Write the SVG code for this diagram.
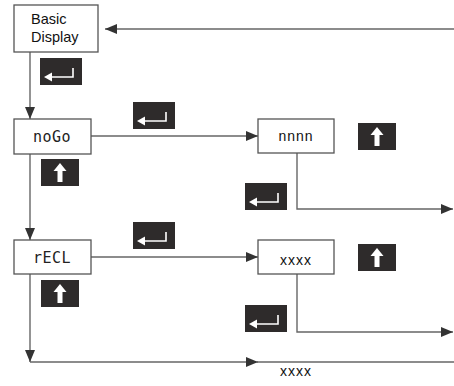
<svg xmlns="http://www.w3.org/2000/svg" xmlns:xlink="http://www.w3.org/1999/xlink" width="454" height="386" viewBox="0 0 454 386">
<style>
.box{fill:#fff;stroke:#555;stroke-width:1.3}
.ln{fill:none;stroke:#666;stroke-width:1.4}
.t{font-family:"Liberation Sans",Arial,sans-serif;font-size:14.5px;fill:#111}
.v{font-family:"Liberation Sans",Arial,sans-serif;font-size:14px;fill:#111;text-anchor:middle;letter-spacing:1px}
.seg{font-family:"DejaVu Sans Mono","Liberation Mono",monospace;font-size:15px;fill:#222;text-anchor:middle;letter-spacing:0.5px}
.ic{fill:#2e2b2b}
</style>
<defs>
<marker id="ah" markerUnits="userSpaceOnUse" markerWidth="12" markerHeight="10" viewBox="0 0 12 10" refX="12" refY="5" orient="auto">
<path d="M0,0 L12,5 L0,10 Z" fill="#333"/>
</marker>
<g id="enter">
<rect class="ic" width="42" height="27"/>
<path d="M33,10 V19 H11" fill="none" stroke="#fff" stroke-width="1.6"/>
<path d="M4,19 L12,14.5 L12,23.5 Z" fill="#fff"/>
</g>
<g id="up">
<rect class="ic" width="38" height="27"/>
<path d="M19,4 L25.5,12 L21.5,12 L21.5,23 L16.5,23 L16.5,12 L12.5,12 Z" fill="#fff"/>
</g>
</defs>
<g id="connectors">
<line class="ln" x1="454" y1="29" x2="105" y2="29" marker-end="url(#ah)"/>
<line class="ln" x1="30" y1="52" x2="30" y2="119" marker-end="url(#ah)"/>
<line class="ln" x1="91" y1="136" x2="258" y2="136" marker-end="url(#ah)"/>
<polyline class="ln" points="297,153 297,209 453,209" marker-end="url(#ah)"/>
<line class="ln" x1="30" y1="154" x2="30" y2="240" marker-end="url(#ah)"/>
<line class="ln" x1="91" y1="257" x2="258" y2="257" marker-end="url(#ah)"/>
<polyline class="ln" points="297,274 297,332 453,332" marker-end="url(#ah)"/>
<line class="ln" x1="30" y1="274" x2="30" y2="362" marker-end="url(#ah)"/>
<line class="ln" x1="30" y1="362" x2="258" y2="362" marker-end="url(#ah)"/>
<line class="ln" x1="256" y1="362" x2="454" y2="362"/>
<text class="v" x="296" y="376">xxxx</text>
</g>
<g id="basic">
<rect class="box" x="14" y="5" width="84" height="47"/>
<text class="t" x="31" y="24">Basic</text>
<text class="t" x="31" y="42">Display</text>
</g>
<g id="nogo">
<rect class="box" x="14" y="119" width="77" height="35"/>
<text class="seg" x="52" y="142">noGo</text>
</g>
<g id="nnnn">
<rect class="box" x="258" y="119" width="76" height="34"/>
<text class="v" x="296" y="141" font-size="15">nnnn</text>
</g>
<g id="recl">
<rect class="box" x="14" y="240" width="77" height="34"/>
<text class="seg" x="52" y="263">rECL</text>
</g>
<g id="xxxx">
<rect class="box" x="258" y="240" width="76" height="34"/>
<text class="v" x="296" y="265">xxxx</text>
</g>
<g id="keys">
<use xlink:href="#enter" x="40" y="58"/>
<use xlink:href="#enter" x="133" y="102"/>
<use xlink:href="#up" x="41" y="159"/>
<use xlink:href="#up" x="358" y="123"/>
<use xlink:href="#enter" x="245" y="183"/>
<use xlink:href="#enter" x="133" y="222"/>
<use xlink:href="#up" x="41" y="280"/>
<use xlink:href="#up" x="358" y="244"/>
<use xlink:href="#enter" x="245" y="305"/>
</g>
</svg>
